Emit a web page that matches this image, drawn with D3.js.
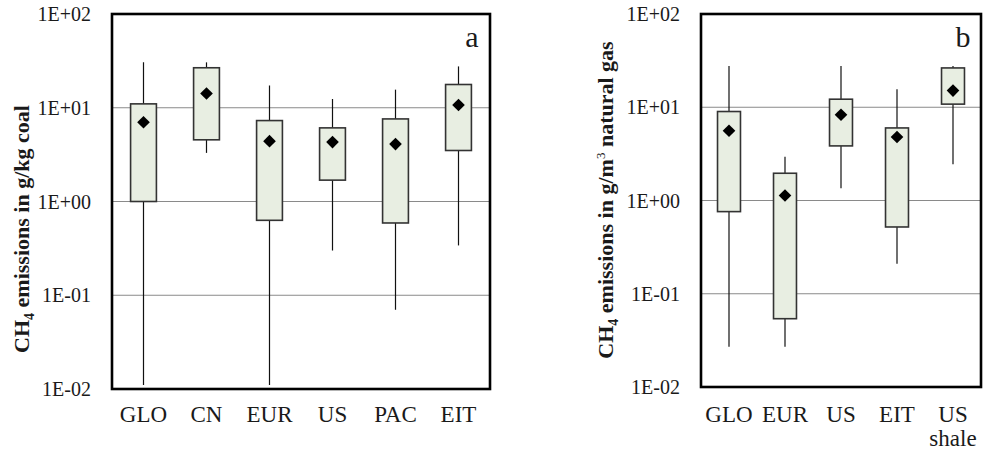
<!DOCTYPE html>
<html>
<head>
<meta charset="utf-8">
<script src="https://d3js.org/d3.v7.min.js"></script>
<style>
  body { margin: 0; background: #fff; }
  svg { display: block; }
  text { font-family: "Liberation Serif", "Times New Roman", serif; fill: #1a1a1a; }
</style>
</head>
<body>
<script>
// panel a : coal
var coalCats  = ["GLO", "CN", "EUR", "US", "PAC", "EIT"];
var coalMin   = [0.011, 3.3, 0.011, 0.30, 0.070, 0.34];
var coalQ1    = [1.0, 4.55, 0.63, 1.69, 0.59, 3.5];
var coalQ3    = [11.0, 26.7, 7.3, 6.1, 7.6, 17.7];
var coalMax   = [30.5, 30.5, 17.3, 12.4, 15.6, 27.6];
var coalMean  = [7.0, 14.2, 4.4, 4.3, 4.1, 10.7];

// panel b : natural gas
var gasCats  = ["GLO", "EUR", "US", "EIT", "US shale"];
var gasMin   = [0.027, 0.027, 1.35, 0.21, 2.45];
var gasQ1    = [0.76, 0.054, 3.85, 0.52, 10.8];
var gasQ3    = [9.0, 1.96, 12.2, 6.0, 26.4];
var gasMax   = [27.7, 2.95, 27.7, 15.6, 27.7];
var gasMean  = [5.6, 1.13, 8.3, 4.8, 15.1];

var yTicks = [1e-2, 1e-1, 1, 10, 100];
var yTickLabels = ["1E-02", "1E-01", "1E+00", "1E+01", "1E+02"];

var W = 984, H = 451;
var svg = d3.select("body").append("svg").attr("width", W).attr("height", H);

function panel(opt) {
  var x = d3.scaleBand().domain(opt.cats).range([opt.x0, opt.x1]);
  var y = d3.scaleLog().domain([1e-2, 100]).range([opt.y1, opt.y0]);
  var g = svg.append("g");

  // grid lines
  g.selectAll(".grid").data([0.1, 1, 10]).enter().append("line")
    .attr("x1", opt.x0).attr("x2", opt.x1)
    .attr("y1", d => y(d)).attr("y2", d => y(d))
    .attr("stroke", "#8a8a8a").attr("stroke-width", 1.2);

  var data = opt.cats.map((c, i) => ({c: c, lo: opt.min[i], q1: opt.q1[i], q3: opt.q3[i], hi: opt.max[i], m: opt.mean[i]}));
  var bw = x.bandwidth() * opt.boxFrac;

  // whiskers
  g.selectAll(".wh").data(data).enter().append("line")
    .attr("x1", d => x(d.c) + x.bandwidth() / 2).attr("x2", d => x(d.c) + x.bandwidth() / 2)
    .attr("y1", d => y(d.lo)).attr("y2", d => y(d.hi))
    .attr("stroke", "#111").attr("stroke-width", 1.2);

  // boxes
  g.selectAll(".box").data(data).enter().append("rect")
    .attr("x", d => x(d.c) + (x.bandwidth() - bw) / 2)
    .attr("width", bw)
    .attr("y", d => y(d.q3))
    .attr("height", d => y(d.q1) - y(d.q3))
    .attr("fill", "#e8eee2").attr("stroke", "#333").attr("stroke-width", 1.6);

  // mean diamonds
  var sym = d3.symbol(d3.symbolSquare, 80);
  g.selectAll(".mean").data(data).enter().append("path")
    .attr("d", sym)
    .attr("transform", d => "translate(" + (x(d.c) + x.bandwidth() / 2) + "," + y(d.m) + ") rotate(45)")
    .attr("fill", "#000");

  // frame
  g.append("rect").attr("x", opt.x0).attr("y", opt.y0)
    .attr("width", opt.x1 - opt.x0).attr("height", opt.y1 - opt.y0)
    .attr("fill", "none").attr("stroke", "#000").attr("stroke-width", 2.6);

  // y tick labels
  g.selectAll(".yl").data(yTicks).enter().append("text")
    .attr("x", opt.x0 - 21).attr("y", d => y(d) + 7)
    .attr("text-anchor", "end").style("font-size", "20px")
    .text((d, i) => yTickLabels[i]);

  // x labels
  var xl = g.selectAll(".xl").data(opt.cats).enter().append("text")
    .attr("x", d => x(d) + x.bandwidth() / 2).attr("y", 422)
    .attr("text-anchor", "middle").style("font-size", "23px");
  xl.each(function(d) {
    var parts = d.split(" ");
    var t = d3.select(this);
    parts.forEach((p, k) => {
      t.append("tspan").attr("x", x(d) + x.bandwidth() / 2).attr("dy", k ? 24 : 0).text(p);
    });
  });

  // panel letter
  g.append("text").attr("x", opt.x1 - 18).attr("y", 47)
    .attr("text-anchor", "middle").style("font-size", "30px").text(opt.letter);

  // y title
  var t = g.append("text")
    .attr("transform", "translate(" + opt.titleX + "," + opt.titleY + ") rotate(-90)")
    .attr("text-anchor", "middle").style("font-size", "22px").style("font-weight", "bold");
  t.append("tspan").text("CH");
  t.append("tspan").attr("dy", 5).style("font-size", "14px").text("4");
  t.append("tspan").attr("dy", -5).text(" emissions in " + opt.unit[0]);
  if (opt.unit.length > 1) {
    t.append("tspan").attr("dy", -8).style("font-size", "13px").style("font-weight", "normal").text(opt.unit[1]);
    t.append("tspan").attr("dy", 8).text(opt.unit[2]);
  }
}

panel({cats: coalCats, min: coalMin, q1: coalQ1, q3: coalQ3, max: coalMax, mean: coalMean,
  x0: 112, x1: 490, y0: 14, y1: 389, boxFrac: 0.41, letter: "a",
  titleX: 29, titleY: 229, unit: ["g/kg coal"]});

panel({cats: gasCats, min: gasMin, q1: gasQ1, q3: gasQ3, max: gasMax, mean: gasMean,
  x0: 701, x1: 981, y0: 14, y1: 387, boxFrac: 0.41, letter: "b",
  titleX: 613, titleY: 200, unit: ["g/m", "3", " natural gas"]});
</script>
</body>
</html>
